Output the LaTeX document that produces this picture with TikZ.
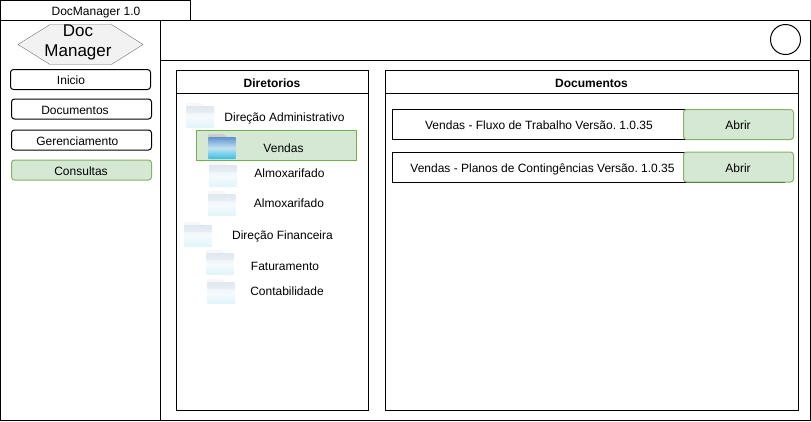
\documentclass[tikz,border=0pt]{standalone}
\usepackage{fontspec}
\setmainfont{Liberation Sans}
\frenchspacing
\definecolor{greenfill}{HTML}{D5E8D4}
\definecolor{greenline}{HTML}{82B366}
\definecolor{selline}{HTML}{6DB34A}
\definecolor{foldertop}{HTML}{5F93CC}
\definecolor{foldermid}{HTML}{C4E2F2}
\definecolor{folderlow}{HTML}{35BFE3}
\tikzset{basic/.style={draw,line width=1pt,inner sep=0pt,outer sep=0pt}}
\tikzset{panel/.style={basic,anchor=north west}}
\tikzset{menu/.style={basic,rounded corners=3pt,minimum width=140pt,minimum height=20pt}}
\tikzset{selected/.style={draw=greenline,fill=greenfill}}
\tikzset{openbtn/.style={menu,selected,minimum width=110pt,minimum height=30pt}}
\tikzset{doc/.style={basic,anchor=north west,minimum height=30pt}}
\tikzset{annot/.style={font=\fontsize{12}{14}\selectfont,inner sep=0pt,anchor=base}}
\tikzset{head/.style={annot,font=\fontsize{12}{14}\selectfont\bfseries}}
\newcommand{\folderfig}[3]{%
    \begin{scope}[shift={(#1,#2)},opacity=#3]
        \fill[black!20,rounded corners=1pt] (0,0) -- (15,0) -- (19,3) -- (28,3) -- (28,10) -- (0,10) -- cycle;
        \shade[top color=foldertop,bottom color=folderlow,middle color=foldermid,rounded corners=1pt]
            (0,3) -- (28,3) -- (28,25) -- (0,25) -- cycle;
    \end{scope}}

\begin{document}
\begin{tikzpicture}[x=1pt,y=-1pt]
    \useasboundingbox (0,0) rectangle (811,421);

    % Draw the window frames
    \node[panel,minimum width=190pt,minimum height=20pt] (title) at (0.5,0.5) {};
    \node[annot] (title-txt) at (96,15) {DocManager 1.0};
    \node[panel,minimum width=810pt,minimum height=400pt] (window) at (0.5,20.5) {};
    \node[panel,minimum width=650pt,minimum height=40pt] (top) at (160.5,20.5) {};
    \node[panel,minimum width=160pt,minimum height=400pt] (side) at (0.5,20.5) {};
    \node[basic,circle,minimum size=30pt] (user) at (785.5,39.5) {};

    % Draw the logo
    \draw[draw=black!55,fill=black!5] (18,44.5) -- (50,24.5) -- (111.5,24.5) -- (143,44.5) -- (111.5,64.5) -- (50,64.5) -- cycle;
    \node[font=\fontsize{17}{20}\selectfont,align=center,inner sep=0pt] (logo) at (78,42) {Doc\\Manager};

    % Draw the menu
    \node[menu] (inicio) at (80.5,79.5) {};
    \node[menu] (documentos) at (81.5,109) {};
    \node[menu] (gerenciamento) at (81.5,140) {};
    \node[menu,selected] (consultas) at (81.5,170) {};
    \foreach \name / \x / \y / \txt in {inicio/71/84.3/Inicio,documentos/75/114.3/Documentos,
            gerenciamento/77.3/145.3/Gerenciamento,consultas/81/175/Consultas}
        \node[annot] (\name-txt) at (\x,\y) {\txt};

    % Draw the two panels
    \node[panel,minimum width=192pt,minimum height=340pt] (dirs) at (176.5,70.5) {};
    \node[panel,minimum width=192pt,minimum height=23pt] (dirs-head) at (176.5,70.5) {};
    \node[head] (dirs-txt) at (272,87) {Diretorios};
    \node[panel,minimum width=413pt,minimum height=340pt] (docs) at (385.5,70.5) {};
    \node[panel,minimum width=413pt,minimum height=23pt] (docs-head) at (385.5,70.5) {};
    \node[head] (docs-txt) at (591.5,87) {Documentos};

    % Selected row
    \node[anchor=north west,draw=selline,fill=greenfill,minimum width=160pt,minimum height=30pt,inner sep=0pt,outer sep=0pt] (sel) at (196.5,130.5) {};

    % Folders of the tree, then their names
    \folderfig{186}{103}{0.16}
    \folderfig{208}{134}{1}
    \foreach \x / \y in {209/162,208/191,184/222,206/250,207/279}
        {\folderfig{\x}{\y}{0.16}}

    \foreach \name / \x / \y / \txt in {a/284.5/121/Direção Administrativo,b/283.5/152/Vendas,
            c/289.5/177/Almoxarifado,d/289/207/Almoxarifado,e/282.5/239/Direção Financeira,
            f/285/270/Faturamento,g/287/295/Contabilidade}
        \node[annot] (D-\name) at (\x,\y) {\txt};

    % Draw the documents
    \node[doc,minimum width=294pt] (doc-1) at (392.5,109.5) {};
    \node[doc,minimum width=392pt] (doc-2) at (392.5,152) {};
    \node[annot] (doc-1-txt) at (539,129.3) {Vendas - Fluxo de Trabalho Versão. 1.0.35};
    \node[annot] (doc-2-txt) at (542.5,172.3) {Vendas - Planos de Contingências Versão. 1.0.35};
    \node[openbtn] (open-1) at (738.5,124.5) {};
    \node[openbtn] (open-2) at (738.5,167) {};
    \foreach \name / \y in {1/129.3,2/172.3}
        \node[annot] (open-\name-txt) at (738,\y) {Abrir};
\end{tikzpicture}
\end{document}
